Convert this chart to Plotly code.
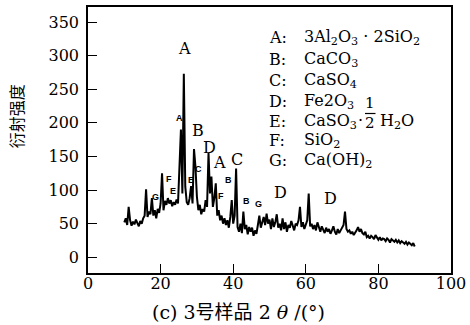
import plotly.graph_objects as go

# ---------------- data ----------------
THETA_START = 10.0   # first 2θ value (°)
THETA_STEP = 0.4     # sampling step (°)

intensity = [
    52, 58, 48, 75, 55, 47, 53, 49, 56, 50,      # 10.0 - 13.6
    46, 54, 50, 58, 62, 101, 60, 68, 64, 88,     # 14.0 - 17.6
    62, 70, 58, 72, 66, 80, 125, 70, 84, 78,     # 18.0 - 21.6
    88, 80, 85, 76, 82, 78, 86, 80, 130, 190,    # 22.0 - 25.6
    95, 273, 105, 82, 78, 88, 106, 80, 161, 135, # 26.0 - 29.6
    90, 70, 78, 64, 72, 68, 85, 75, 155, 95,     # 30.0 - 33.6
    120, 75, 88, 110, 62, 70, 55, 62, 50, 58,    # 34.0 - 37.6
    48, 55, 44, 60, 85, 50, 62, 132, 45, 38,     # 38.0 - 41.6
    50, 36, 68, 42, 48, 34, 45, 38, 44, 32,      # 42.0 - 45.6
    40, 35, 48, 62, 44, 52, 60, 48, 65, 50,      # 46.0 - 49.6
    56, 42, 58, 45, 52, 64, 44, 50, 40, 58,      # 50.0 - 53.6
    42, 52, 38, 48, 44, 54, 46, 40, 50, 48,      # 54.0 - 57.6
    55, 75, 45, 52, 42, 48, 55, 95, 46, 50,      # 58.0 - 61.6
    42, 48, 40, 52, 44, 38, 46, 40, 36, 44,      # 62.0 - 65.6
    38, 42, 35, 40, 46, 38, 34, 42, 36, 40,      # 66.0 - 69.6
    44, 48, 68, 42, 38, 40, 35, 38, 33, 36,      # 70.0 - 73.6
    40, 45, 38, 42, 36, 34, 38, 30, 32, 28,      # 74.0 - 77.6
    32, 30, 27, 33, 29, 26, 30, 25, 28, 27,      # 78.0 - 81.6
    24, 28, 26, 22, 27, 25, 23, 26, 22, 25,      # 82.0 - 85.6
    21, 24, 22, 20, 23, 19, 22, 20, 18, 21,      # 86.0 - 89.6
    16,                                          # 90.0
]
two_theta = [round(THETA_START + THETA_STEP * i, 1) for i in range(len(intensity))]

x_ticks = [0, 20, 40, 60, 80, 100]
y_ticks = [0, 50, 100, 150, 200, 250, 300, 350]

# peak labels: (text, 2θ, intensity)
big_labels = [("A", 26.5, 311), ("B", 30.3, 189), ("D", 33.4, 163),
              ("A", 36.1, 141), ("C", 41.0, 146), ("D", 52.9, 96), ("D", 66.7, 88)]
small_labels = [("A", 25.3, 207), ("F", 22.4, 116), ("E", 23.4, 99), ("G", 18.6, 90),
                ("E", 28.3, 115), ("C", 30.5, 132), ("B", 38.8, 115), ("F", 36.5, 91),
                ("B", 43.6, 84), ("G", 46.9, 79)]

legend_letters = ["A:", "B:", "C:", "D:", "E:", "F:", "G:"]
legend_formulas = ["3Al<sub>2</sub>O<sub>3</sub> · 2SiO<sub>2</sub>", "CaCO<sub>3</sub>",
                   "CaSO<sub>4</sub>", "Fe2O<sub>3</sub>", "CaSO<sub>3</sub>",
                   "SiO<sub>2</sub>", "Ca(OH)<sub>2</sub>"]

# ---------------- figure ----------------
W, H = 470, 325
ML, MR, MT, MB = 88, 19, 7, 52
PW, PH = W - ML - MR, H - MT - MB

def px(x):
    return (x - ML) / PW

def py(y):
    return (H - MB - y) / PH

SERIF = "DejaVu Serif, Noto Sans CJK SC"

def pann(text, x, y, size=16, family=SERIF, xanchor="center", angle=0):
    return dict(x=px(x), y=py(y), xref="paper", yref="paper", text=text,
                showarrow=False, xanchor=xanchor, yanchor="middle", textangle=angle,
                font=dict(family=family, size=size, color="black"))

fig = go.Figure()
fig.add_trace(go.Scatter(x=two_theta, y=intensity, mode="lines",
                         line=dict(color="black", width=2), showlegend=False))

ann = []
for t, x, y in big_labels:
    ann.append(dict(x=x, y=y, xref="x", yref="y", text=t, showarrow=False,
                    xanchor="center", yanchor="middle",
                    font=dict(family=SERIF, size=16, color="black")))
for t, x, y in small_labels:
    ann.append(dict(x=x, y=y, xref="x", yref="y", text="<b>" + t + "</b>", showarrow=False,
                    xanchor="center", yanchor="middle",
                    font=dict(family="Liberation Sans", size=9, color="black")))

rows_y = [38, 59, 80, 101, 122, 140.5, 160]
for letter, formula, yy in zip(legend_letters, legend_formulas, rows_y):
    ann.append(pann(letter, 266.5, yy, xanchor="left"))
    ann.append(pann(formula, 301.5, yy, xanchor="left"))
# fraction part of E row
ann.append(pann("·", 360, 120))
ann.append(pann("1", 370, 102.5, size=15))
ann.append(pann("2", 370, 123, size=15))
ann.append(pann("H<sub>2</sub>O", 378, 121, xanchor="left"))

# axis titles
ann.append(pann("(c) 3号样品 2 <i>θ</i> /(°)", 238, 311.5, size=19))
ann.append(pann("衍射强度", 16.7, 116.5, family="Noto Sans CJK SC", angle=-90))

shapes = [dict(type="line", xref="paper", yref="paper", x0=px(365), x1=px(375.5),
               y0=py(113.5), y1=py(113.5), line=dict(color="black", width=1.2))]

axis_common = dict(showline=True, mirror=True, linecolor="black", linewidth=1.5,
                   ticks="inside", ticklen=9, tickwidth=1.2, tickcolor="black",
                   showgrid=False, zeroline=False,
                   tickfont=dict(family=SERIF, size=16, color="black"))

fig.update_layout(
    width=W, height=H,
    margin=dict(l=ML, r=MR, t=MT, b=MB, autoexpand=False),
    paper_bgcolor="white", plot_bgcolor="white",
    xaxis=dict(range=[0, 100], tickvals=x_ticks, ticklabelstandoff=-5, **axis_common),
    yaxis=dict(range=[-23.4, 372.4], tickvals=y_ticks, ticklabelstandoff=4, **axis_common),
    annotations=ann, shapes=shapes, showlegend=False,
)

fig.write_html("out.html", config={"displayModeBar": False},
               post_script="document.body.style.margin='0';")
